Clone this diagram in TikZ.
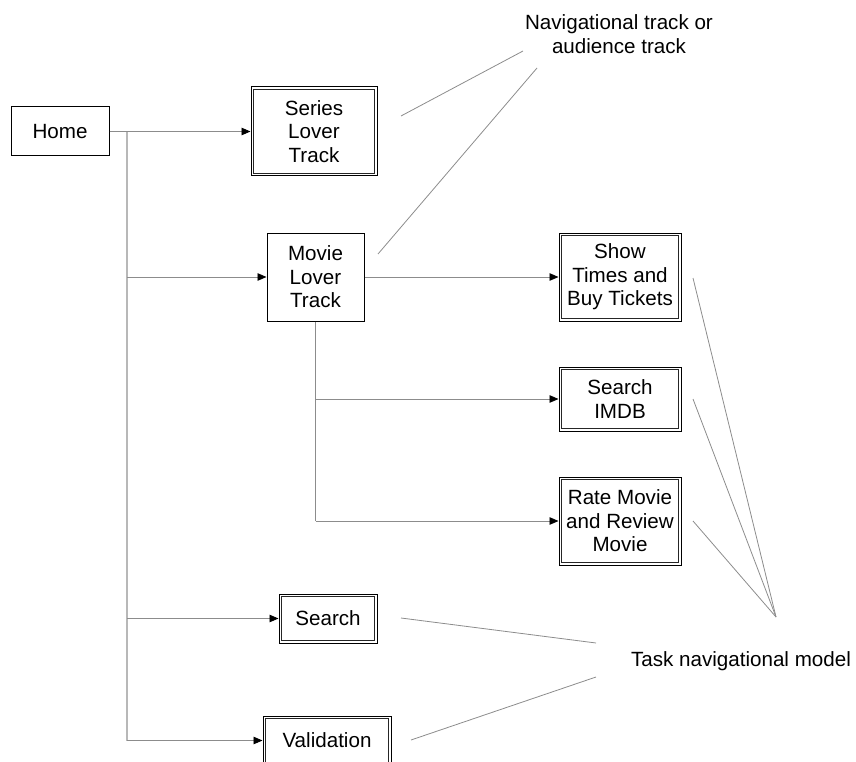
\documentclass[tikz,border=0pt]{standalone}
\usepackage{fontspec}
\setmainfont{Liberation Sans}
\usetikzlibrary{arrows.meta}

\begin{document}
\begin{tikzpicture}[x=1pt,y=-1pt,
  every node/.style={font=\fontsize{20.6}{23.5}\selectfont, align=center, inner sep=0pt},
  plainbox/.style={draw=black, line width=1pt, rectangle},
  dblbox/.style={draw=black, line width=1pt, rectangle},
  innerline/.style={draw=black!85, line width=0.9pt},
  flow/.style={draw=black!45, line width=0.9pt, -{Triangle[length=9pt,width=7.5pt,black]}},
  trunk/.style={draw=black!28, line width=1.6pt},
  note/.style={draw=black!45, line width=0.8pt}]

  \useasboundingbox (0,0) rectangle (856,762);

  % main boxes
  \node[plainbox, minimum width=98pt, minimum height=49pt] (home) at (60,131.5) {Home};
  \node[dblbox, minimum width=126pt, minimum height=89pt] (series) at (314,131.5) {Series\\Lover\\Track};
  \node[plainbox, minimum width=97pt, minimum height=88pt] (movie) at (315.5,277) {Movie\\Lover\\Track};
  \node[dblbox, minimum width=122pt, minimum height=88pt] (show) at (620,277) {Show\\Times and\\Buy Tickets};
  \node[dblbox, minimum width=122pt, minimum height=64pt] (imdb) at (620,399) {Search\\IMDB};
  \node[dblbox, minimum width=122pt, minimum height=88pt] (rate) at (620,521) {Rate Movie\\and Review\\Movie};
  \node[dblbox, minimum width=98pt, minimum height=49pt] (search) at (328,618.5) {Search};
  \node[dblbox, minimum width=128pt, minimum height=49pt] (valid) at (327,740.5) {Validation};

  % inner frame of the double-bordered boxes
  \foreach \n in {series,show,imdb,rate,search,valid}
    \draw[innerline] ([shift={(3.2,3.2)}]\n.north west) rectangle ([shift={(-3.2,-3.2)}]\n.south east);

  % annotation labels
  \node (navlbl) at (619,34) {Navigational track or\\audience track};
  \node[anchor=base] (tasklbl) at (741,666.5) {Task navigational model};

  % junctions on the home trunk
  \coordinate (t0) at (127,131.5);
  \coordinate (t1) at (127,277);
  \coordinate (t2) at (127,618.5);
  \coordinate (t3) at (127,740.5);
  % junctions on the movie trunk
  \coordinate (m1) at (movie.south |- imdb.west);
  \coordinate (m2) at (movie.south |- rate.west);

  % trunks
  \draw[trunk] (t0) -- (t3);
  \draw[draw=black!45, line width=0.9pt] (movie.south) -- (m2);

  % branches
  \draw[flow] (home.east) -- (series.west);
  \draw[flow] (t1) -- (movie.west);
  \draw[flow] (t2) -- (search.west);
  \draw[flow] (t3) -- (valid.west);
  \draw[flow] (movie.east) -- (show.west);
  \draw[flow] (m1) -- (imdb.west);
  \draw[flow] (m2) -- (rate.west);

  % callout lines for the navigational track label
  \coordinate (na) at (401,116);
  \coordinate (nb) at (523,51);
  \coordinate (nc) at (378,254);
  \coordinate (nd) at (537,68);
  \draw[note] (na) -- (nb);
  \draw[note] (nc) -- (nd);

  % callout lines for the task model label
  \coordinate (tp) at (776,617);
  \coordinate (s1) at (693,278);
  \coordinate (s2) at (693,399);
  \coordinate (s3) at (693,521);
  \draw[note] (s1) -- (tp);
  \draw[note] (s2) -- (tp);
  \draw[note] (s3) -- (tp);
  \coordinate (q1) at (401,618);
  \coordinate (q2) at (596,643);
  \coordinate (q3) at (411,740);
  \coordinate (q4) at (596,677);
  \draw[note] (q1) -- (q2);
  \draw[note] (q3) -- (q4);
\end{tikzpicture}
\end{document}
